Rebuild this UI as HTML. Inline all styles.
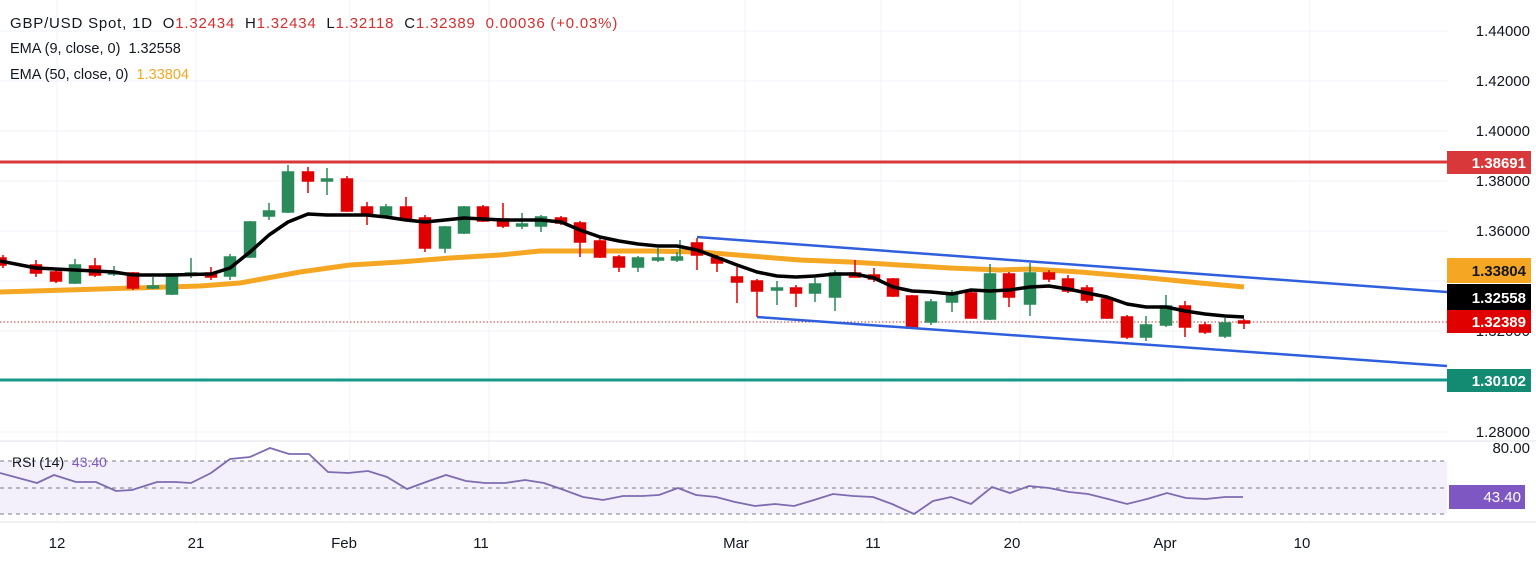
<!DOCTYPE html>
<html><head><meta charset="utf-8"><style>
body{margin:0;background:#fff;width:1536px;height:564px;overflow:hidden;font-family:"Liberation Sans",sans-serif}
svg{display:block}
</style></head><body>
<svg width="1536" height="564" xmlns="http://www.w3.org/2000/svg" font-family="Liberation Sans, sans-serif">
<rect width="1536" height="564" fill="#fff"/>
<g stroke="#f0f3fa" stroke-width="1">
<line x1="0" y1="31" x2="1447" y2="31"/><line x1="0" y1="81" x2="1447" y2="81"/><line x1="0" y1="131" x2="1447" y2="131"/><line x1="0" y1="181" x2="1447" y2="181"/><line x1="0" y1="231" x2="1447" y2="231"/><line x1="0" y1="281" x2="1447" y2="281"/><line x1="0" y1="331" x2="1447" y2="331"/><line x1="0" y1="381" x2="1447" y2="381"/><line x1="0" y1="432" x2="1447" y2="432"/>
<line x1="57" y1="0" x2="57" y2="522"/><line x1="196" y1="0" x2="196" y2="522"/><line x1="350" y1="0" x2="350" y2="522"/><line x1="489" y1="0" x2="489" y2="522"/><line x1="745" y1="0" x2="745" y2="522"/><line x1="881" y1="0" x2="881" y2="522"/><line x1="1020" y1="0" x2="1020" y2="522"/><line x1="1173" y1="0" x2="1173" y2="522"/><line x1="1310" y1="0" x2="1310" y2="522"/>
</g>
<line x1="0" y1="441" x2="1536" y2="441" stroke="#e0e3eb"/>
<line x1="0" y1="522" x2="1536" y2="522" stroke="#e0e3eb"/>
<line x1="0" y1="162" x2="1447" y2="162" stroke="#d9383a" stroke-width="3"/>
<line x1="0" y1="380" x2="1447" y2="380" stroke="#16998a" stroke-width="3"/>
<line x1="0" y1="322" x2="1447" y2="322" stroke="#c0392b" stroke-width="1" stroke-dasharray="1.5,2"/>
<polyline fill="none" stroke="#f5a623" stroke-width="5" stroke-linejoin="round" points="0,292 100,289 200,286 240,283 300,272 350,265 400,262 450,258 500,255 540,251 600,251 650,251 700,252 750,256 800,260 850,262 900,265 950,268 1000,270 1030,269 1080,272 1150,278 1200,283 1244,287"/>
<g stroke-width="1.5">
<g stroke="#e00000" fill="#e00000">
<line x1="3" y1="255" x2="3" y2="268"/><rect x="0" y="258" width="6" height="7"/>
<line x1="36" y1="260" x2="36" y2="277"/><rect x="30.5" y="265" width="11" height="8"/>
<line x1="56" y1="270" x2="56" y2="283"/><rect x="50.5" y="272" width="11" height="9"/>
<line x1="95" y1="258" x2="95" y2="277"/><rect x="89.5" y="266" width="11" height="9"/>
<line x1="133" y1="272" x2="133" y2="290"/><rect x="127.5" y="273" width="11" height="15"/>
<line x1="211" y1="267" x2="211" y2="280"/><rect x="205.5" y="273" width="11" height="4"/>
<line x1="308" y1="167" x2="308" y2="193"/><rect x="302.5" y="172" width="11" height="9"/>
<line x1="347" y1="176" x2="347" y2="212"/><rect x="341.5" y="179" width="11" height="32"/>
<line x1="367" y1="202" x2="367" y2="225"/><rect x="361.5" y="207" width="11" height="8"/>
<line x1="406" y1="197" x2="406" y2="220"/><rect x="400.5" y="207" width="11" height="12"/>
<line x1="425" y1="215" x2="425" y2="252"/><rect x="419.5" y="218" width="11" height="30"/>
<line x1="483" y1="205" x2="483" y2="222"/><rect x="477.5" y="207" width="11" height="14"/>
<line x1="503" y1="203" x2="503" y2="228"/><rect x="497.5" y="219" width="11" height="7"/>
<line x1="561" y1="216" x2="561" y2="225"/><rect x="555.5" y="218" width="11" height="5"/>
<line x1="580" y1="221" x2="580" y2="257"/><rect x="574.5" y="223" width="11" height="19"/>
<line x1="600" y1="238" x2="600" y2="258"/><rect x="594.5" y="241" width="11" height="16"/>
<line x1="619" y1="255" x2="619" y2="272"/><rect x="613.5" y="257" width="11" height="10"/>
<line x1="697" y1="238" x2="697" y2="270"/><rect x="691.5" y="243" width="11" height="12"/>
<line x1="717" y1="255" x2="717" y2="272"/><rect x="711.5" y="258" width="11" height="5"/>
<line x1="737" y1="267" x2="737" y2="303"/><rect x="731.5" y="277" width="11" height="5"/>
<line x1="757" y1="279" x2="757" y2="317"/><rect x="751.5" y="281" width="11" height="10"/>
<line x1="796" y1="285" x2="796" y2="307"/><rect x="790.5" y="288" width="11" height="5"/>
<line x1="855" y1="260" x2="855" y2="277"/><rect x="849.5" y="273" width="11" height="4"/>
<line x1="874" y1="268" x2="874" y2="282"/><rect x="868.5" y="275" width="11" height="4"/>
<line x1="893" y1="278" x2="893" y2="297"/><rect x="887.5" y="279" width="11" height="17"/>
<line x1="912" y1="295" x2="912" y2="329"/><rect x="906.5" y="296" width="11" height="32"/>
<line x1="971" y1="290" x2="971" y2="318"/><rect x="965.5" y="293" width="11" height="25"/>
<line x1="1009" y1="272" x2="1009" y2="307"/><rect x="1003.5" y="274" width="11" height="23"/>
<line x1="1049" y1="270" x2="1049" y2="282"/><rect x="1043.5" y="273" width="11" height="6"/>
<line x1="1068" y1="275" x2="1068" y2="293"/><rect x="1062.5" y="279" width="11" height="12"/>
<line x1="1087" y1="285" x2="1087" y2="303"/><rect x="1081.5" y="288" width="11" height="12"/>
<line x1="1107" y1="297" x2="1107" y2="319"/><rect x="1101.5" y="299" width="11" height="19"/>
<line x1="1127" y1="315" x2="1127" y2="339"/><rect x="1121.5" y="317" width="11" height="20"/>
<line x1="1185" y1="301" x2="1185" y2="337"/><rect x="1179.5" y="306" width="11" height="21"/>
<line x1="1205" y1="322" x2="1205" y2="334"/><rect x="1199.5" y="325" width="11" height="7"/>
<line x1="1244" y1="319" x2="1244" y2="329"/><rect x="1238.5" y="321" width="11" height="2"/>
</g>
<g stroke="#2a8a5a" fill="#2a8a5a">
<line x1="75" y1="259" x2="75" y2="284"/><rect x="69.5" y="265" width="11" height="18"/>
<line x1="114" y1="266" x2="114" y2="276"/><rect x="108.5" y="272" width="11" height="2"/>
<line x1="153" y1="277" x2="153" y2="289"/><rect x="147.5" y="286" width="11" height="2"/>
<line x1="172" y1="273" x2="172" y2="295"/><rect x="166.5" y="274" width="11" height="20"/>
<line x1="191" y1="258" x2="191" y2="278"/><rect x="185.5" y="273" width="11" height="2"/>
<line x1="230" y1="254" x2="230" y2="280"/><rect x="224.5" y="257" width="11" height="19"/>
<line x1="250" y1="221" x2="250" y2="258"/><rect x="244.5" y="222" width="11" height="35"/>
<line x1="269" y1="203" x2="269" y2="220"/><rect x="263.5" y="211" width="11" height="5"/>
<line x1="288" y1="165" x2="288" y2="213"/><rect x="282.5" y="172" width="11" height="40"/>
<line x1="327" y1="168" x2="327" y2="195"/><rect x="321.5" y="179" width="11" height="2"/>
<line x1="386" y1="204" x2="386" y2="218"/><rect x="380.5" y="207" width="11" height="8"/>
<line x1="445" y1="226" x2="445" y2="253"/><rect x="439.5" y="227" width="11" height="21"/>
<line x1="464" y1="206" x2="464" y2="234"/><rect x="458.5" y="207" width="11" height="26"/>
<line x1="522" y1="213" x2="522" y2="229"/><rect x="516.5" y="224" width="11" height="2"/>
<line x1="541" y1="215" x2="541" y2="232"/><rect x="535.5" y="217" width="11" height="9"/>
<line x1="638" y1="256" x2="638" y2="272"/><rect x="632.5" y="258" width="11" height="9"/>
<line x1="658" y1="248" x2="658" y2="262"/><rect x="652.5" y="258" width="11" height="2"/>
<line x1="677" y1="252" x2="677" y2="262"/><rect x="671.5" y="257" width="11" height="3"/>
<line x1="680" y1="240" x2="680" y2="260"/>
<line x1="777" y1="281" x2="777" y2="305"/><rect x="771.5" y="288" width="11" height="2"/>
<line x1="815" y1="278" x2="815" y2="302"/><rect x="809.5" y="284" width="11" height="9"/>
<line x1="835" y1="270" x2="835" y2="311"/><rect x="829.5" y="273" width="11" height="24"/>
<line x1="931" y1="299" x2="931" y2="325"/><rect x="925.5" y="302" width="11" height="20"/>
<line x1="952" y1="290" x2="952" y2="312"/><rect x="946.5" y="293" width="11" height="9"/>
<line x1="990" y1="264" x2="990" y2="320"/><rect x="984.5" y="274" width="11" height="45"/>
<line x1="1030" y1="263" x2="1030" y2="316"/><rect x="1024.5" y="273" width="11" height="31"/>
<line x1="1146" y1="316" x2="1146" y2="341"/><rect x="1140.5" y="325" width="11" height="12"/>
<line x1="1166" y1="295" x2="1166" y2="327"/><rect x="1160.5" y="306" width="11" height="19"/>
<line x1="1225" y1="318" x2="1225" y2="338"/><rect x="1219.5" y="323" width="11" height="13"/>
</g>
</g>
<polyline fill="none" stroke="#000" stroke-width="3.5" stroke-linejoin="round" points="0,261 36,268 75,270 114,272 133,275 172,275 211,274 230,268 250,252 269,235 288,222 308,214 327,215 347,215 367,215 386,217 406,220 425,222 445,220 464,218 483,219 503,220 522,220 541,220 561,222 580,230 600,237 619,241 638,244 658,246 677,246 697,250 716,257 737,265 757,272 777,276 796,277 815,276 835,274 855,274 874,278 893,287 912,291 931,292 952,294 971,290 990,291 1009,290 1030,287 1049,286 1068,289 1087,293 1107,297 1127,304 1146,307 1166,307 1185,311 1205,314 1225,316 1244,317"/>
<line x1="697" y1="237" x2="1447" y2="292" stroke="#2f5fdc" stroke-width="2.5"/>
<line x1="757" y1="317" x2="1447" y2="366" stroke="#2f5fdc" stroke-width="2.5"/>
<rect x="0" y="461" width="1447" height="53" fill="#f3f0fb"/>
<g stroke="#787b86" stroke-dasharray="4,4" stroke-width="1">
<line x1="0" y1="461" x2="1447" y2="461"/><line x1="0" y1="488" x2="1447" y2="488"/><line x1="0" y1="514" x2="1447" y2="514"/>
</g>
<polyline fill="none" stroke="#7e6bb0" stroke-width="1.8" points="0,473 37,483 54,475 76,482 96,482 116,491 132,490 157,482 175,482 191,483 211,473 230,459 250,457 270,448 289,454 309,454 328,472 348,473 368,471 387,477 407,489 426,482 446,475 466,481 485,483 505,483 525,480 544,483 564,490 583,497 603,500 623,496 642,496 659,495 678,488 696,495 716,497 735,502 755,506 775,504 794,506 814,500 833,494 853,496 873,497 892,504 914,514 933,501 951,497 971,504 992,487 1010,493 1029,486 1049,488 1069,492 1088,494 1108,499 1127,504 1147,499 1167,493 1186,498 1206,499 1225,497 1243,497"/>
<text x="12" y="467" font-size="14" fill="#131722" xml:space="preserve">RSI (14)  <tspan fill="#7e57c2">43.40</tspan></text>
<text x="10" y="28" font-size="15" letter-spacing="0.8" fill="#131722" xml:space="preserve">GBP/USD Spot, 1D  O<tspan fill="#d32f2f">1.32434</tspan>  H<tspan fill="#d32f2f">1.32434</tspan>  L<tspan fill="#d32f2f">1.32118</tspan>  C<tspan fill="#d32f2f">1.32389</tspan>  <tspan fill="#d32f2f">0.00036 (+0.03%)</tspan></text>
<text x="10" y="53" font-size="14.5" fill="#131722" xml:space="preserve">EMA (9, close, 0)  1.32558</text>
<text x="10" y="79" font-size="14.5" fill="#131722" xml:space="preserve">EMA (50, close, 0)  <tspan fill="#f5a623">1.33804</tspan></text>
<g font-size="15" fill="#131722" text-anchor="end">
<text x="1530" y="36">1.44000</text><text x="1530" y="86">1.42000</text><text x="1530" y="136">1.40000</text><text x="1530" y="186">1.38000</text><text x="1530" y="236">1.36000</text><text x="1530" y="336">1.32000</text><text x="1530" y="437">1.28000</text><text x="1530" y="453">80.00</text>
</g>
<rect x="1447" y="151" width="84" height="23" fill="#d9383a"/>
<rect x="1447" y="258" width="84" height="25" fill="#f5a623"/>
<rect x="1447" y="284" width="84" height="26" fill="#000"/>
<rect x="1447" y="310" width="84" height="23" fill="#e00000"/>
<rect x="1447" y="369" width="84" height="23" fill="#138a72"/>
<rect x="1449" y="485" width="76" height="24" fill="#7e57c2"/>
<g font-size="15" text-anchor="end" font-weight="bold">
<text x="1526" y="168" fill="#fff">1.38691</text>
<text x="1526" y="276" fill="#131722">1.33804</text>
<text x="1526" y="303" fill="#fff">1.32558</text>
<text x="1526" y="327" fill="#fff">1.32389</text>
<text x="1526" y="386" fill="#fff">1.30102</text>
<text x="1521" y="502" fill="#fff" font-weight="normal">43.40</text>
</g>
<g font-size="15" fill="#131722" text-anchor="middle">
<text x="57" y="548">12</text><text x="196" y="548">21</text><text x="344" y="548">Feb</text><text x="481" y="548">11</text><text x="736" y="548">Mar</text><text x="873" y="548">11</text><text x="1012" y="548">20</text><text x="1165" y="548">Apr</text><text x="1302" y="548">10</text>
</g>
</svg>
</body></html>
